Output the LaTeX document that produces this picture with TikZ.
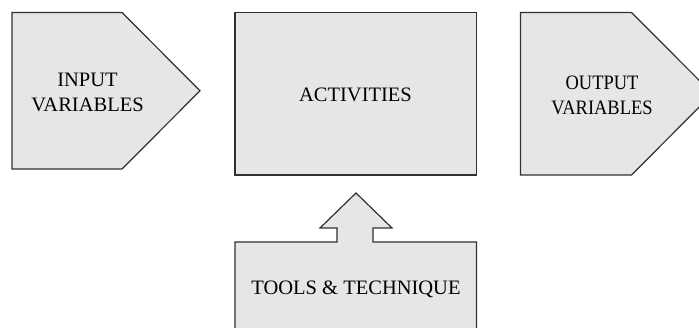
\documentclass[tikz,border=0pt]{standalone}
\usepackage{fontspec}
\setmainfont{Liberation Serif}
\definecolor{boxgray}{HTML}{E6E6E6}
\definecolor{linegray}{HTML}{303030}
\begin{document}
\begin{tikzpicture}[x=1pt,y=-1pt,
  shapebox/.style={fill=boxgray,draw=linegray,line width=1.2pt,line join=miter},
  lbl/.style={font=\fontsize{20.5}{25}\selectfont,align=center,inner sep=0pt,text=black}]
\useasboundingbox (0,0) rectangle (699,328);
\clip (0,0) rectangle (699,328);
% input pentagon
\draw[shapebox] (12,12.5) -- (122,12.5) -- (200,90.8) -- (122,169) -- (12,169) -- cycle;
% activities box
\draw[shapebox] (235,12.5) rectangle (476.5,175);
% output pentagon
\draw[shapebox] (520.5,12.5) -- (631.5,12.5) -- (712.5,93.7) -- (631.5,175) -- (520.5,175) -- cycle;
% tools box with arrow
\draw[shapebox] (235,340) -- (235,242) -- (337,242) -- (337,228) -- (320,228) -- (356,193)
  -- (392,228) -- (373,228) -- (373,242) -- (476.5,242) -- (476.5,340);
\node[lbl] (input) at (87.5,92) {INPUT\\VARIABLES};
\node[lbl,anchor=base] (act) at (355.5,101.7) {ACTIVITIES};
\node[lbl,xscale=0.9] (output) at (602,95) {OUTPUT\\VARIABLES};
\node[lbl,anchor=base] (tools) at (356,295) {TOOLS \& TECHNIQUE};
\end{tikzpicture}
\end{document}
